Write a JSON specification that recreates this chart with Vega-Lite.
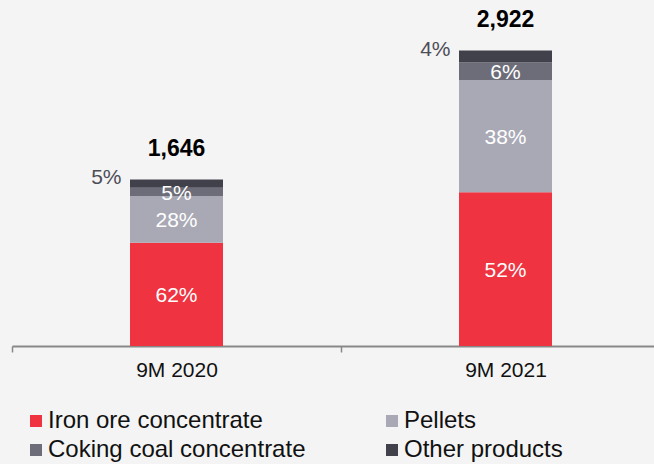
{
  "$schema": "https://vega.github.io/schema/vega-lite/v6.json",
  "width": 642,
  "height": 346,
  "autosize": {"type": "none"},
  "padding": {"left": 12, "top": 0, "right": 0, "bottom": 118},
  "background": "#f4f4f4",
  "config": {"view": {"stroke": null}, "font": "Liberation Sans"},
  "datasets": {
    "seg": [
      {"period": "9M 2020", "product": "Iron ore concentrate", "ord": 1, "value": 1021, "pct": "62%"},
      {"period": "9M 2020", "product": "Pellets", "ord": 2, "value": 461, "pct": "28%"},
      {"period": "9M 2020", "product": "Coking coal concentrate", "ord": 3, "value": 82, "pct": "5%"},
      {"period": "9M 2020", "product": "Other products", "ord": 4, "value": 82, "pct": "5%"},
      {"period": "9M 2021", "product": "Iron ore concentrate", "ord": 1, "value": 1520, "pct": "52%"},
      {"period": "9M 2021", "product": "Pellets", "ord": 2, "value": 1110, "pct": "38%"},
      {"period": "9M 2021", "product": "Coking coal concentrate", "ord": 3, "value": 175, "pct": "6%"},
      {"period": "9M 2021", "product": "Other products", "ord": 4, "value": 117, "pct": "4%"}
    ],
    "tot": [
      {"period": "9M 2020", "total": 1646, "label": "1,646"},
      {"period": "9M 2021", "total": 2922, "label": "2,922"}
    ]
  },
  "layer": [
    {
      "data": {"name": "seg"},
      "transform": [
        {"stack": "value", "groupby": ["period"], "sort": [{"field": "ord"}], "as": ["y0", "y1"]},
        {"calculate": "(datum.y0 + datum.y1) / 2", "as": "mid"}
      ],
      "layer": [
        {
          "mark": {"type": "bar", "size": 93},
          "encoding": {
            "x": {
              "field": "period", "type": "nominal",
              "scale": {"range": [0, 658], "paddingInner": 0, "paddingOuter": 0},
              "axis": {
                "title": null, "labelAngle": 0, "labelFontSize": 21, "labelColor": "#111",
                "domainColor": "#888", "domainWidth": 2, "tickColor": "#888", "tickWidth": 1.5,
                "tickSize": 6, "tickBand": "extent", "labelPadding": 7
              }
            },
            "y": {"field": "y0", "type": "quantitative", "scale": {"domain": [0, 3420], "nice": false, "zero": true}, "axis": null},
            "y2": {"field": "y1"},
            "color": {
              "field": "product", "type": "nominal",
              "scale": {
                "domain": ["Iron ore concentrate", "Pellets", "Coking coal concentrate", "Other products"],
                "range": ["#ef3340", "#a9a9b5", "#6d6d79", "#41414c"]
              },
              "legend": {
                "title": null, "orient": "none", "legendX": 12, "legendY": 409,
                "direction": "horizontal",
                "columns": 2, "columnPadding": 74, "rowPadding": 5,
                "symbolType": "square", "symbolSize": 144, "symbolStrokeWidth": 0,
                "labelFontSize": 24, "labelColor": "#111", "labelOffset": 0, "labelLimit": 0, "padding": 0
              }
            },
            "order": {"field": "ord"}
          }
        },
        {
          "transform": [{"filter": "datum.product !== 'Other products'"}],
          "mark": {"type": "text", "color": "#ffffff", "fontSize": 21, "baseline": "middle", "dy": 2},
          "encoding": {
            "x": {"field": "period", "type": "nominal"},
            "y": {"field": "mid", "type": "quantitative"},
            "text": {"field": "pct"}
          }
        },
        {
          "transform": [{"filter": "datum.product === 'Other products'"}],
          "mark": {"type": "text", "color": "#4d4d57", "fontSize": 21, "baseline": "middle", "align": "right", "dx": -55, "dy": -6},
          "encoding": {
            "x": {"field": "period", "type": "nominal"},
            "y": {"field": "mid", "type": "quantitative"},
            "text": {"field": "pct"}
          }
        }
      ]
    },
    {
      "data": {"name": "tot"},
      "mark": {"type": "text", "fontSize": 23, "fontWeight": "bold", "color": "#000", "baseline": "middle", "dy": -30},
      "encoding": {
        "x": {"field": "period", "type": "nominal"},
        "y": {"field": "total", "type": "quantitative"},
        "text": {"field": "label"}
      }
    }
  ]
}
